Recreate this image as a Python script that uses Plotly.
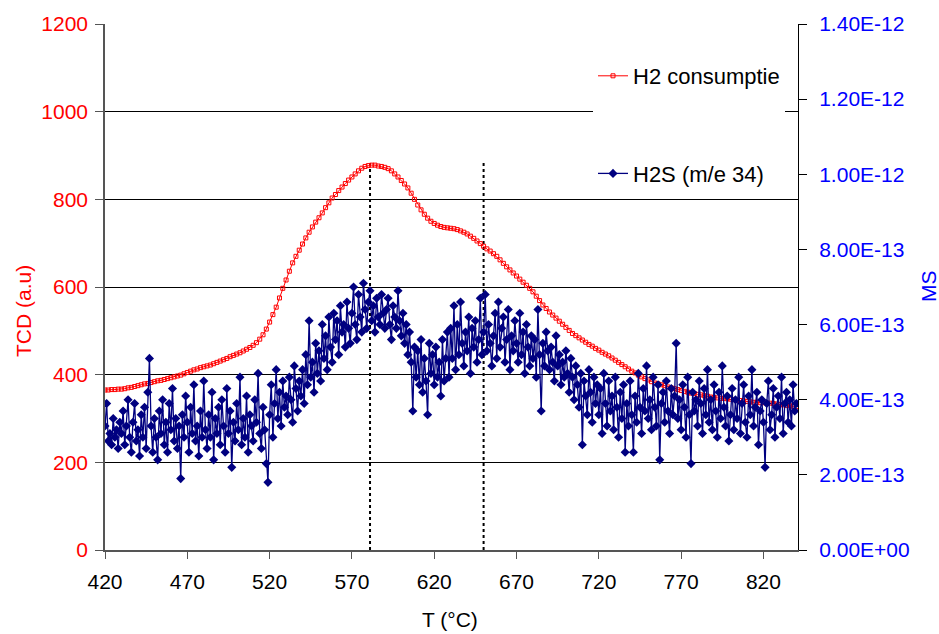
import plotly.graph_objects as go

# ---------------- data ----------------
T_h2 = list(range(420, 841, 2))
h2_tcd = [
    365, 365, 366, 366, 367, 367, 368, 370, 371, 373,
    375, 377, 379, 380, 382, 384, 386, 387, 389, 391,
    393, 395, 397, 399, 402, 405, 408, 411, 413, 416,
    418, 420, 422, 425, 428, 431, 434, 437, 441, 444,
    447, 450, 454, 458, 462, 467, 473, 481, 491, 504,
    520, 537, 554, 575, 597, 616, 636, 655, 670, 684,
    698, 712, 725, 737, 748, 758, 769, 781, 792, 803,
    811, 820, 828, 836, 844, 851, 858, 865, 871, 875,
    877, 878, 878, 876, 875, 873, 870, 865, 858, 851,
    843, 835, 826, 814, 800, 787, 776, 766, 757, 750,
    745, 741, 738, 736, 735, 734, 733, 731, 728, 725,
    721, 716, 711, 705, 699, 693, 687, 682, 676, 670,
    662, 654, 646, 639, 632, 625, 618, 611, 604, 597,
    589, 579, 569, 559, 551, 543, 536, 529, 522, 515,
    508, 501, 494, 489, 484, 479, 474, 469, 465, 460,
    456, 451, 447, 443, 438, 433, 428, 423, 418, 413,
    408, 404, 399, 395, 391, 388, 384, 381, 379, 377,
    375, 372, 370, 368, 366, 364, 362, 360, 358, 357,
    355, 354, 352, 351, 349, 348, 347, 346, 346, 345,
    344, 343, 342, 341, 340, 339, 338, 337, 337, 336,
    336, 335, 335, 334, 333, 332, 331, 330, 329, 328,
    327,
]

T_ms = list(range(420, 841, 1))
# H2S signal in units of 1e-13
h2s_ms_e13 = [
    3.3, 3.9, 2.9, 3.1, 2.8, 3.5, 3.0, 3.2, 2.7, 3.4,
    3.1, 3.7, 2.8, 3.3, 4.0, 3.0, 2.6, 3.4, 3.9, 2.9,
    3.2, 2.5, 3.6, 3.0, 3.8, 2.7, 4.2, 5.1, 3.3, 2.6,
    3.5, 3.0, 2.4, 3.7, 3.1, 4.0, 2.8, 3.4, 2.6, 3.9,
    3.2, 4.3, 2.9, 3.5, 2.7, 3.3, 1.9, 3.6, 3.0, 4.1,
    3.4, 2.6, 3.8, 3.1, 4.4, 2.9, 3.3, 2.5, 3.7, 3.0,
    4.5, 3.2, 2.7, 3.6, 3.0, 4.2, 2.4, 3.5, 3.1, 3.8,
    2.8, 4.0, 3.3, 2.6, 4.3, 3.1, 3.7, 2.2, 3.4, 2.9,
    3.9, 3.2, 4.6, 2.8, 3.5, 3.0, 4.1, 2.6, 3.6, 3.3,
    2.9, 4.0, 3.4, 4.7, 3.1, 2.7, 3.8, 3.2, 2.3, 1.8,
    3.6, 4.4, 3.0, 3.9, 4.8, 3.5, 4.2, 3.3, 4.5, 3.8,
    4.1, 3.6, 4.6, 4.0, 3.4, 4.9, 4.3, 3.7, 4.5, 4.1,
    4.8, 3.9, 5.2, 4.4, 6.1, 4.6, 5.0, 4.2, 5.5, 4.7,
    5.3, 4.5, 6.0, 5.1, 5.7, 4.8, 6.2, 5.4, 5.0, 6.3,
    5.6, 6.1, 5.2, 6.5, 5.8, 6.0, 5.4, 6.6, 5.9, 5.5,
    6.3, 7.0, 6.0, 5.6, 6.8, 6.2, 5.8, 7.1, 6.4, 5.9,
    6.6, 6.9, 6.1, 6.5, 5.8, 6.7, 6.2, 6.0, 6.8, 6.3,
    5.9, 6.4, 6.7, 6.0, 5.6, 6.5, 6.2, 5.9, 6.9, 6.1,
    5.7, 6.3, 5.5, 6.0, 5.2, 5.8, 5.0, 3.7, 5.4, 4.6,
    5.3, 4.4, 5.6, 4.2, 5.1, 4.5, 3.6, 5.5, 4.7, 5.2,
    4.4, 5.4, 4.6, 5.0, 4.1, 5.6, 4.5, 5.1, 5.8, 4.6,
    5.9, 5.1, 6.5, 4.8, 6.0, 5.2, 6.6, 5.5, 4.9, 5.8,
    5.3, 6.2, 4.7, 5.9, 5.4, 6.1, 5.0, 5.6, 6.7, 5.2,
    5.8, 6.8, 5.3, 6.0, 5.5, 4.9, 5.7, 6.3, 5.1, 6.6,
    5.4, 5.9, 6.2, 5.0, 5.6, 6.4, 4.8, 5.7, 5.3, 6.1,
    5.5, 5.0, 6.3, 5.2, 5.8, 4.7, 6.0, 5.4, 4.9, 5.7,
    5.1, 5.6, 4.6, 6.4, 5.2, 3.7, 5.5, 4.9, 5.8, 5.3,
    4.8, 5.4, 5.0, 4.5, 5.7, 4.9, 5.2, 4.4, 5.0, 4.6,
    5.3, 4.7, 4.2, 5.1, 4.6, 4.0, 4.9, 4.4, 3.8, 4.7,
    2.8, 4.5, 4.1, 3.6, 4.8, 4.2, 3.4, 4.6, 3.9, 4.4,
    3.6, 4.3, 3.1, 4.7, 3.9, 3.3, 4.5, 3.7, 4.1, 3.2,
    4.6, 3.8, 3.0, 4.2, 3.5, 4.4, 2.6, 3.9, 3.3, 4.5,
    3.6, 2.6, 4.1, 3.4, 4.7, 3.8, 3.1, 4.3, 3.7, 4.9,
    3.5, 4.0, 3.2, 4.6, 3.8, 3.3, 4.4, 2.4, 3.9, 4.2,
    3.4, 4.5, 3.7, 3.1, 4.3, 3.6, 4.1, 5.5, 3.5, 4.0,
    3.2, 4.4, 3.8, 3.0, 4.6, 3.6, 2.3, 4.2, 3.7, 4.0,
    3.3, 4.5, 3.9, 3.1, 4.3, 3.6, 4.8, 3.4, 4.0, 3.2,
    4.4, 3.7, 3.0, 4.2, 3.5, 4.9, 3.8, 3.3, 4.1, 2.9,
    3.6, 4.3, 3.2, 4.0, 3.5, 4.6, 3.1, 3.9, 4.4, 3.4,
    3.0, 4.1, 3.6, 4.8, 3.3, 3.8, 4.2, 2.8, 3.7, 4.0,
    3.4, 2.2, 3.9, 4.5, 3.2, 3.6, 4.3, 3.0, 3.8, 4.1,
    3.5, 4.6, 3.1, 3.9, 4.2, 3.4, 4.0, 3.3, 4.4, 3.7,
    3.9,
]
h2s_ms = [v * 1e-13 for v in h2s_ms_e13]

# dotted marker lines (T in °C, top in TCD units)
marker_T = [581, 650]
marker_top = 885

x_ticks = [420, 470, 520, 570, 620, 670, 720, 770, 820]
left_ticks = [0, 200, 400, 600, 800, 1000, 1200]
right_tickvals = [0, 2e-13, 4e-13, 6e-13, 8e-13, 1e-12, 1.2e-12, 1.4e-12]
right_ticktext = ["0.00E+00", "2.00E-13", "4.00E-13", "6.00E-13",
                  "8.00E-13", "1.00E-12", "1.20E-12", "1.40E-12"]

FONT = "Arial, Liberation Sans, sans-serif"
RED = "#FF0000"
BLUE = "#0000FF"
NAVY = "#000080"

# plot-area pixel geometry helpers (for paper-coordinate placement)
L, R, TOP, BOT = 105, 798, 24, 550
W, H = R - L, BOT - TOP
def px(xp):
    return (xp - L) / W
def py(yp):
    return (BOT - yp) / H

fig = go.Figure()

for t in marker_T:
    fig.add_trace(go.Scatter(
        x=[t, t], y=[0, marker_top], mode="lines",
        line=dict(color="black", width=2, dash="dot"),
        showlegend=False, hoverinfo="skip"))

fig.add_trace(go.Scatter(
    x=T_h2, y=h2_tcd, name="H2 consumptie", mode="lines+markers",
    line=dict(color=RED, width=1),
    marker=dict(symbol="square-open", size=4, color=RED, line=dict(width=1, color=RED)),
    legendgroup="a"))

fig.add_trace(go.Scatter(
    x=T_ms, y=h2s_ms, name="H2S (m/e 34)", mode="lines+markers",
    line=dict(color=NAVY, width=1.3),
    marker=dict(symbol="diamond", size=7, color=NAVY),
    yaxis="y2", legendgroup="b"))

fig.update_layout(
    width=939, height=634,
    margin=dict(l=L, r=939 - R, t=TOP, b=634 - BOT),
    paper_bgcolor="white", plot_bgcolor="white",
    font=dict(family=FONT, size=21, color="black"),
    showlegend=True,
    legend=dict(
        x=px(593), xanchor="left",
        y=py(55), yanchor="top",
        bgcolor="white", borderwidth=0,
        font=dict(family=FONT, size=22, color="black"),
        tracegroupgap=66, traceorder="grouped",
    ),
    shapes=[
        dict(type="rect", xref="paper", yref="paper", layer="between",
             x0=px(593), x1=px(785), y0=py(212), y1=py(45),
             fillcolor="white", line=dict(width=0)),
    ],
    xaxis=dict(
        range=[420, 841], tickvals=x_ticks, ticks="outside", ticklen=7,
        tickcolor="#555555", showline=True, linecolor="#555555", linewidth=1.5,
        showgrid=False, zeroline=False, ticklabelstandoff=5,
        tickfont=dict(family=FONT, size=21, color="black"),
    ),
    yaxis=dict(
        range=[0, 1200], tickvals=left_ticks, ticks="outside", ticklen=8,
        tickcolor="#555555", showline=True, linecolor="#555555", linewidth=1.5,
        showgrid=True, gridcolor="black", gridwidth=1, zeroline=False,
        ticklabelstandoff=3,
        tickfont=dict(family=FONT, size=21, color=RED),
    ),
    yaxis2=dict(
        range=[0, 1.4e-12], overlaying="y", side="right",
        tickvals=right_tickvals, ticktext=right_ticktext,
        ticks="outside", ticklen=8, tickcolor="black",
        showline=True, linecolor="black", linewidth=1,
        showgrid=False, zeroline=False, ticklabelstandoff=8,
        tickfont=dict(family=FONT, size=21, color=BLUE),
    ),
    annotations=[
        dict(text="TCD (a.u)", xref="paper", yref="paper",
             x=px(23), y=py(311), xanchor="center", yanchor="middle",
             textangle=-90, showarrow=False,
             font=dict(family=FONT, size=21, color=RED)),
        dict(text="MS", xref="paper", yref="paper",
             x=px(928), y=py(286), xanchor="center", yanchor="middle",
             textangle=-90, showarrow=False,
             font=dict(family=FONT, size=21, color=BLUE)),
        dict(text="T (°C)", xref="paper", yref="paper",
             x=px(450), y=py(619), xanchor="center", yanchor="middle",
             showarrow=False, font=dict(family=FONT, size=21, color="black")),
    ],
)

fig.write_html("out.html")
